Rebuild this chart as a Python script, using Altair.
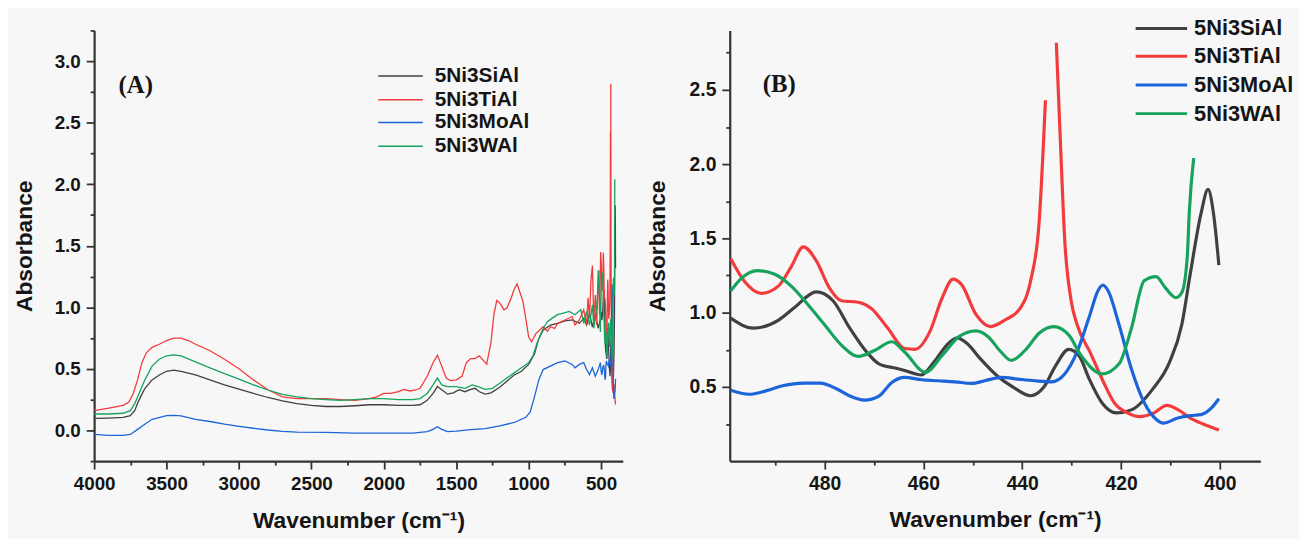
import altair as alt
import pandas as pd

SERIES = ["5Ni3SiAl", "5Ni3TiAl", "5Ni3MoAl", "5Ni3WAl"]
COLORS = ["#404040", "#f23b3b", "#1c64d9", "#16a35e"]

# ---- full-range spectra (4000 -> ~500 cm-1), panel A only ----
si_w_hi = [4000, 3900, 3800, 3750, 3720, 3700, 3680, 3650, 3600, 3550, 3500, 3450, 3400, 3300, 3200, 3100, 3000,
           2900, 2800, 2700, 2600, 2500, 2400, 2300, 2200, 2100, 2000, 1900, 1800, 1750, 1700, 1660, 1630, 1600,
           1560, 1520, 1480, 1440, 1400, 1370, 1340, 1300, 1260, 1200, 1150, 1100, 1050, 1000, 960, 930, 900, 850,
           800, 750, 700, 650, 620, 600, 580, 560, 540, 520, 505]
si_a_hi = [.097, .10, .105, .12, .16, .22, .27, .34, .41, .45, .48, .49, .48, .45, .41, .37, .336,
           .30, .267, .24, .217, .203, .194, .194, .20, .208, .208, .203, .203, .208, .244, .30, .356, .33,
           .294, .305, .33, .314, .333, .342, .314, .294, .305, .35, .40, .45, .48, .536, .62, .745, .814, .856,
           .87, .89, .897, .87, .91, .856, .95, .84, .94, .83, .90]

ti_w_hi = [4000, 3900, 3800, 3760, 3730, 3700, 3670, 3640, 3600, 3550, 3500, 3450, 3400, 3350, 3300, 3200, 3100,
           3000, 2900, 2800, 2700, 2600, 2500, 2400, 2300, 2200, 2100, 2050, 2000, 1950, 1900, 1860, 1820, 1780,
           1750, 1700, 1660, 1630, 1600, 1570, 1540, 1500, 1460, 1430, 1400, 1370, 1340, 1310, 1290, 1260, 1240,
           1220, 1200, 1170, 1150, 1120, 1100, 1080, 1060, 1040, 1020, 1000, 980, 950, 900, 870, 850, 820, 800,
           750, 700, 680, 650, 620, 600, 590, 580, 570, 560, 550, 540, 530, 520, 510, 503]
ti_a_hi = [.16, .18, .203, .23, .30, .41, .55, .63, .675, .70, .73, .75, .75, .73, .70, .647, .578,
           .50, .41, .33, .272, .258, .258, .258, .25, .244, .258, .272, .30, .30, .314, .333, .32, .328,
           .342, .44, .55, .61, .522, .425, .405, .41, .44, .55, .583, .583, .606, .564, .536, .717, .94,
           1.056, 1.036, .98, .994, 1.078, 1.147, 1.19, 1.12, 1.05, .91, .758, .72, .786, .842, .806, .842, .828, .87,
           .897, .925, .856, .897, .98, .856, 1.078, .91, 1.217, 1.34, .88, 1.10, .856, 1.30, .94, 1.45]

mo_w_hi = [4000, 3900, 3800, 3750, 3700, 3650, 3600, 3500, 3450, 3400, 3300, 3200, 3100, 3000, 2900, 2800, 2700,
           2600, 2400, 2200, 2000, 1800, 1700, 1660, 1630, 1600, 1560, 1500, 1400, 1300, 1200, 1100, 1020, 990,
           960, 930, 900, 850, 800, 750, 700, 680, 650, 620, 600, 580, 560, 540, 520, 505]
mo_a_hi = [-.033, -.04, -.04, -.033, .008, .05, .09, .12, .122, .117, .09, .072, .05, .033, .017, .003, -.008,
           -.014, -.017, -.022, -.022, -.022, -.011, .008, .03, .008, -.011, -.006, .006, .014, .036, .064, .106, .147,
           .272, .41, .494, .522, .55, .564, .536, .508, .536, .55, .494, .453, .508, .44, .494, .55]

w_w_hi = [4000, 3900, 3800, 3750, 3720, 3700, 3650, 3600, 3550, 3500, 3450, 3400, 3300, 3200, 3100, 3000, 2900,
          2800, 2700, 2600, 2500, 2400, 2300, 2200, 2100, 2000, 1900, 1800, 1750, 1700, 1660, 1630, 1600, 1560,
          1500, 1440, 1390, 1350, 1300, 1250, 1200, 1150, 1100, 1050, 1000, 970, 940, 900, 870, 840, 800, 760,
          720, 680, 640, 620, 600, 580, 560, 550, 530, 515, 505]
w_a_hi = [.133, .133, .139, .16, .217, .272, .41, .522, .578, .606, .614, .606, .556, .508, .461, .417, .37,
          .328, .292, .272, .258, .25, .244, .25, .258, .258, .25, .25, .258, .30, .37, .425, .37, .356,
          .356, .342, .37, .356, .333, .342, .383, .425, .467, .508, .55, .606, .717, .828, .883, .91, .94, .953,
          .967, .94, .98, .87, .967, .856, 1.02, .83, .994, 1.30, .80]

# ---- low-wavenumber region (499 -> 400 cm-1), panels A and B ----
si_w_lo = [499, 494.4, 489.3, 485.9, 481.7, 478.3, 474.9, 471.5, 469, 465.5, 463.8, 460.4, 457.9, 455.3, 453.2,
           451.1, 448.5, 445.1, 441.7, 438.3, 435.7, 433.2, 430.6, 428.5, 426.4, 423.8, 420.9, 417.9, 413.6, 410.2,
           407.7, 406, 403.8, 402.4, 401.3, 400.2]
si_a_lo = [.963, .895, .95, 1.04, 1.14, 1.08, .895, .735, .655, .625, .61, .58, .665, .78, .83,
           .79, .69, .575, .495, .44, .495, .645, .753, .71, .55, .39, .325, .345, .485, .665,
           .92, 1.26, 1.67, 1.83, 1.67, 1.32]

ti_w_lo = [499, 496.2, 492.8, 489.3, 486.8, 484.3, 481.7, 479.1, 476.6, 473.2, 470.6, 467.2, 463.8, 461.7, 458.7,
           456.2, 454.0, 452.3, 449.4, 446.4, 443.4, 440.4, 438.3, 436.6, 435.3, 434.2, 433.1, 432.3, 431.4, 430.1,
           428.9, 426.3, 423.8, 421.3, 418.7, 416.2, 413.6, 410.7, 408.5, 406, 403.4, 400.2]
ti_a_lo = [1.363, 1.21, 1.13, 1.18, 1.306, 1.443, 1.35, 1.17, 1.08, 1.07, 1.03, .895, .758, .753, .872,
           1.10, 1.226, 1.19, .99, .906, .952, 1.03, 1.215, 1.60, 2.43, None, 2.817, 2.17, 1.49, 1.08,
           .92, .735, .55, .39, .325, .30, .32, .375, .347, .29, .25, .21]

mo_w_lo = [499, 495.3, 491.9, 488.5, 484.3, 480.9, 477.4, 474.9, 471.9, 469, 466.4, 463.8, 460.4, 457, 453.6,
           450.2, 447.6, 444.2, 440.8, 437.4, 434.1, 431.4, 428.9, 426.3, 424.7, 423.7, 422.6, 420.4, 417.9, 415.3,
           412.8, 411.5, 408.5, 406, 403.8, 401.7, 400.2]
mo_a_lo = [.477, .45, .473, .507, .525, .525, .484, .438, .411, .438, .53, .564, .548, .541, .534,
           .523, .541, .564, .552, .541, .534, .587, .735, .986, 1.146, 1.185, 1.146, .918, .621, .393,
           .279, .256, .29, .306, .313, .358, .42]

w_w_lo = [499, 497, 493.6, 490.2, 486.8, 483.4, 480, 476.6, 473.2, 469.8, 466.4, 463.8, 459.6, 456.2, 452.8,
          449.4, 446.9, 444.3, 442.2, 439.1, 436.6, 433.6, 430.6, 428.1, 423.8, 420.4, 417.9, 415.3, 412.9, 411.1,
          408.9, 407.7, 406.6, 406.2, 405.3]
w_a_lo = [1.146, 1.226, 1.283, 1.26, 1.18, 1.055, .918, .781, .705, .747, .804, .735, .598, .712, .838,
          .877, .838, .735, .678, .758, .861, .906, .85, .712, .587, .655, .895, 1.215, 1.242, 1.17,
          1.10, 1.135, 1.374, 1.67, 2.04]

# axis ticks
A_X_MAJOR = [4000, 3500, 3000, 2500, 2000, 1500, 1000, 500]
A_X_MINOR = [3750, 3250, 2750, 2250, 1750, 1250, 750]
A_Y_MAJOR = [0.0, 0.5, 1.0, 1.5, 2.0, 2.5, 3.0]
A_Y_MINOR = [-0.25, 0.25, 0.75, 1.25, 1.75, 2.25, 2.75, 3.25]
B_X_MAJOR = [480, 460, 440, 420, 400]
B_X_MINOR = [490, 470, 450, 430, 410]
B_Y_MAJOR = [0.5, 1.0, 1.5, 2.0, 2.5]
B_Y_MINOR = [0.25, 0.75, 1.25, 1.75, 2.25, 2.75]

HI = [(si_w_hi, si_a_hi), (ti_w_hi, ti_a_hi), (mo_w_hi, mo_a_hi), (w_w_hi, w_a_hi)]
LO = [(si_w_lo, si_a_lo), (ti_w_lo, ti_a_lo), (mo_w_lo, mo_a_lo), (w_w_lo, w_a_lo)]

frames_a, frames_b = [], []
for name, (wh, ah), (wl, al) in zip(SERIES, HI, LO):
    assert len(wh) == len(ah) and len(wl) == len(al), name
    frames_a.append(pd.DataFrame({"w": wh + wl, "a": ah + al, "s": name}))
    frames_b.append(pd.DataFrame({"w": wl, "a": al, "s": name}))
df_a = pd.concat(frames_a, ignore_index=True)
df_b = pd.concat(frames_b, ignore_index=True)

FONT = "Liberation Sans"
INK = "#151515"
AX = "#333333"
dummy = pd.DataFrame({"k": [0]})


def axis_main(values, fmt, title, title_pad, label_size):
    return alt.Axis(values=values, format=fmt, title=title, grid=False, domainColor=AX, domainWidth=2.2,
                    tickColor=AX, tickWidth=1.8, tickSize=8, labelFont=FONT, labelFontSize=label_size,
                    labelFontWeight="bold", labelColor=INK, labelPadding=6, titleFont=FONT,
                    titleFontSize=23, titleFontWeight="bold", titleColor=INK, titlePadding=title_pad,
                    labelFlush=False, labelOverlap=False)


def axis_minor(values, orient):
    return alt.Axis(values=values, title="", labels=False, domain=False, grid=False, tickColor=AX,
                    tickWidth=1.8, tickSize=4, orient=orient)


def panel(df, xdom, ydom, xmaj, xmin, ymaj, ymin, sw, interp, xtitle_pad, ytitle_pad, label_size,
          leg_x0, leg_x1, leg_xt, leg_ys, leg_fs, leg_sw, tag, tag_x, tag_y, w, h):
    xs = alt.Scale(domain=xdom, reverse=True, nice=False, zero=False)
    ys = alt.Scale(domain=ydom, nice=False, zero=False)
    color = alt.Color("s:N", scale=alt.Scale(domain=SERIES, range=COLORS), legend=None)
    lines = alt.Chart(df).mark_line(strokeWidth=sw, interpolate=interp,
                                    invalid="break-paths-show-domains").encode(
        x=alt.X("w:Q", scale=xs, axis=axis_main(xmaj, "d", "Wavenumber (cm⁻¹)", xtitle_pad, label_size)),
        y=alt.Y("a:Q", scale=ys, axis=axis_main(ymaj, ".1f", "Absorbance", ytitle_pad, label_size)),
        color=color,
        detail="s:N",
    )
    minor = alt.Chart(df).mark_line(opacity=0).encode(
        x=alt.X("w:Q", scale=xs, axis=axis_minor(xmin, "bottom")),
        y=alt.Y("a:Q", scale=ys, axis=axis_minor(ymin, "left")),
        detail="s:N",
    )
    layers = [lines, minor]
    for name, col, yy in zip(SERIES, COLORS, leg_ys):
        layers.append(alt.Chart(dummy).mark_rule(color=col, strokeWidth=leg_sw).encode(
            x=alt.value(leg_x0), x2=alt.value(leg_x1), y=alt.value(yy)))
        layers.append(alt.Chart(dummy).mark_text(text=name, align="left", baseline="middle", font=FONT,
                                                 fontSize=leg_fs, fontWeight="bold", color=INK).encode(
            x=alt.value(leg_xt), y=alt.value(yy)))
    layers.append(alt.Chart(dummy).mark_text(text=tag, align="center", baseline="middle",
                                             font="Liberation Serif", fontSize=25, fontWeight="bold",
                                             color=INK).encode(x=alt.value(tag_x), y=alt.value(tag_y)))
    return alt.layer(*layers).resolve_axis(x="independent", y="independent").properties(width=w, height=h)


left = panel(df_a, [350, 4000], [-0.25, 3.25], A_X_MAJOR, A_X_MINOR, A_Y_MAJOR, A_Y_MINOR, 1.3, "linear",
             16, 18, 19, 287, 332, 344, [46, 70, 93, 117], 21, 1.6, "(A)", 42, 55, 534, 435)
right = panel(df_b, [391.8, 499.2], [0.0, 2.9], B_X_MAJOR, B_X_MINOR, B_Y_MAJOR, B_Y_MINOR, 3.2, "monotone",
              16, 20, 19.5, 410, 462, 469, [-2, 26, 55, 84], 22, 3.0, "(B)", 50, 54, 536, 435)

chart = alt.hconcat(left, right, spacing=108, bounds="flush").properties(
    padding={"left": 5, "top": 7, "right": 5, "bottom": 5}
).configure(background="#f7f7f7").configure_view(stroke=None)

chart.save("out.html", embed_options={"renderer": "svg", "actions": False})
